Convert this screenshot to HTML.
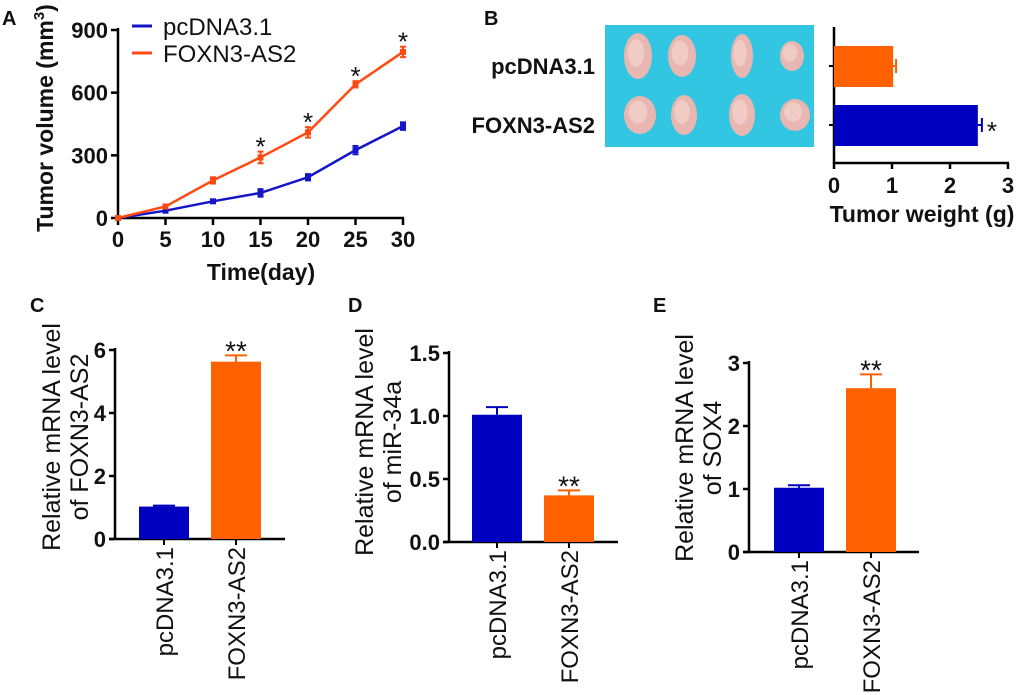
<!DOCTYPE html>
<html><head><meta charset="utf-8"><style>
html,body{margin:0;padding:0;background:#fff;}
svg{display:block;font-family:"Liberation Sans",Arial,sans-serif;}
text{font-weight:bold;fill:#111;}
</style></head><body>
<svg id="fig" width="1020" height="695" viewBox="0 0 1020 695" xmlns="http://www.w3.org/2000/svg"></svg>
<script>
// Panel A data
const daysA = [0,5,10,15,20,25,30];
const ctrlVol = [0,35,80,120,195,325,440];
const ctrlErr = [5,8,8,18,15,20,18];
const foxVol = [0,55,180,290,410,640,795];
const foxErr = [5,8,15,28,25,15,25];
const sigA = [false,false,false,true,true,true,true];
const yTicksA = [0,300,600,900];
// Panel B data
const groupsB = ["pcDNA3.1","FOXN3-AS2"];
const weightB = [1.02,2.48];
const weightErrB = [0.05,0.07];
const xTicksB = [0,1,2,3];
// Panels C,D,E data
const groups = ["pcDNA3.1","FOXN3-AS2"];
const valC = [1.03,5.63]; const errC = [0.03,0.2]; const ticksC = [0,2,4,6];
const valD = [1.01,0.37]; const errD = [0.06,0.04]; const ticksD = ["0.0","0.5","1.0","1.5"];
const valE = [1.02,2.6]; const errE = [0.04,0.22]; const ticksE = [0,1,2,3];

const BLUE="#0000c0", ORANGE="#ff6000", LBLUE="#1414c8", LORANGE="#ff4a14";
const svg=document.getElementById('fig');
const NS="http://www.w3.org/2000/svg";
function el(tag,attrs,parent){const e=document.createElementNS(NS,tag);for(const k in attrs)e.setAttribute(k,attrs[k]);(parent||svg).appendChild(e);return e;}
function txt(s,attrs,parent){const t=el('text',attrs,parent);t.textContent=s;return t;}
function grp(name){const g=el('g',{});return g;}

// ---------- Panel A ----------
(function(){
const g=grp('panel-a-line-chart');
const x=d=>118+d*(285/30), y=v=>218-v*(188/900);
const l=txt('A',{x:2,y:25,'font-size':20},g);
el('line',{x1:118,y1:28,x2:118,y2:219,stroke:'#000','stroke-width':2.5},g);
el('line',{x1:117,y1:218,x2:404,y2:218,stroke:'#000','stroke-width':2.5},g);
yTicksA.forEach(v=>{el('line',{x1:111,y1:y(v),x2:118,y2:y(v),stroke:'#000','stroke-width':2.5},g);
 const t=txt(String(v),{x:108,y:y(v)+8,'font-size':22,'text-anchor':'end'},g);});
daysA.forEach(d=>{el('line',{x1:x(d),y1:218,x2:x(d),y2:225,stroke:'#000','stroke-width':2.5},g);
 const t=txt(String(d),{x:x(d),y:247,'font-size':22,'text-anchor':'middle'},g);});
const yt=txt('',{transform:'translate(53,118) rotate(-90)','font-size':23,'text-anchor':'middle'},g);
yt.innerHTML='Tumor volume (mm<tspan dy="-9" font-size="15">3</tspan><tspan dy="9">)</tspan>';

const xt=txt('Time(day)',{x:261,y:280,'font-size':23,'text-anchor':'middle'},g);
[[ctrlVol,ctrlErr,LBLUE,'pcdna-series'],[foxVol,foxErr,LORANGE,'foxn3-series']].forEach(([vals,errs,c,n])=>{
 const p=el('polyline',{points:vals.map((v,i)=>x(daysA[i])+','+y(v)).join(' '),fill:'none',stroke:c,'stroke-width':2.5},g);
 
 vals.forEach((v,i)=>{const cx=x(daysA[i]);
  el('line',{x1:cx,y1:y(v+errs[i]),x2:cx,y2:y(v-errs[i]),stroke:c,'stroke-width':2},g);
  el('line',{x1:cx-3,y1:y(v+errs[i]),x2:cx+3,y2:y(v+errs[i]),stroke:c,'stroke-width':2},g);
  el('line',{x1:cx-3,y1:y(v-errs[i]),x2:cx+3,y2:y(v-errs[i]),stroke:c,'stroke-width':2},g);
  const m=el('rect',{x:cx-3,y:y(v)-3,width:6,height:6,fill:c},g);});
});
foxVol.forEach((v,i)=>{if(sigA[i]){const s=txt('*',{x:x(daysA[i]),y:y(v+foxErr[i])+4,'font-size':26,'text-anchor':'middle'},g);s.style.fontWeight='normal';}});
const lg=grp('legend');
el('line',{x1:132,y1:26,x2:152,y2:26,stroke:LBLUE,'stroke-width':3},lg);
el('line',{x1:132,y1:53,x2:152,y2:53,stroke:LORANGE,'stroke-width':3},lg);
txt('pcDNA3.1',{x:163,y:35,'font-size':24},lg).style.fontWeight='normal';
txt('FOXN3-AS2',{x:163,y:62,'font-size':24},lg).style.fontWeight='normal';
})();

// ---------- Panel B ----------
(function(){
const g=grp('panel-b');
const l=txt('B',{x:484,y:25,'font-size':20},g);
const ph=grp('tumor-photo');
el('rect',{x:605,y:25,width:209,height:122,fill:'#32c6e2'},ph);
const tx=[[638,682,742,792],[640,684,742,795]], ty=[56,115], rw=[[14,14,11,12],[16,13,13,15]], rh=[[23,21,22,15],[19,20,21,16]];
tx.forEach((row,r)=>row.forEach((cx,i)=>{el('ellipse',{cx:cx,cy:ty[r],rx:rw[r][i],ry:rh[r][i],fill:'#e9b7b1'},ph);el('ellipse',{cx:cx-2,cy:ty[r]-3,rx:rw[r][i]*0.6,ry:rh[r][i]*0.6,fill:'#f1cbc6'},ph);}));
const bx=v=>834+v*58, rows=[66,125];
groupsB.forEach((n,i)=>{const t=txt(n,{x:595,y:rows[i]+8,'font-size':22,'text-anchor':'end'},g);});
el('line',{x1:834,y1:27,x2:834,y2:164,stroke:'#000','stroke-width':2.5},g);
el('line',{x1:833,y1:163,x2:1009,y2:163,stroke:'#000','stroke-width':2.5},g);
rows.forEach(r=>el('line',{x1:829,y1:r,x2:834,y2:r,stroke:'#000','stroke-width':2},g));
xTicksB.forEach(v=>{el('line',{x1:bx(v),y1:163,x2:bx(v),y2:169,stroke:'#000','stroke-width':2.5},g);
 const t=txt(String(v),{x:bx(v),y:193,'font-size':22,'text-anchor':'middle'},g);});
const cols=[ORANGE,BLUE];
weightB.forEach((v,i)=>{const b=el('rect',{x:834,y:rows[i]-20,width:bx(v)-834,height:41,fill:cols[i]},g);
 const e=bx(v+weightErrB[i]);el('line',{x1:bx(v),y1:rows[i],x2:e,y2:rows[i],stroke:cols[i],'stroke-width':2},g);el('line',{x1:e,y1:rows[i]-7,x2:e,y2:rows[i]+7,stroke:cols[i],'stroke-width':2},g);});
const s=txt('*',{x:bx(weightB[1]+weightErrB[1])+5,y:rows[1]+15,'font-size':26},g);s.style.fontWeight='normal';
const xt=txt('Tumor weight (g)',{x:922,y:222,'font-size':23,'text-anchor':'middle'},g);
})();

// ---------- Bar panels ----------
function barPanel(o){
const g=grp(o.name);
const y=v=>o.y0-v*(o.y0-o.yTop)/o.max;
const l=txt(o.letter,{x:o.lx,y:312,'font-size':20},g);
el('line',{x1:o.ax,y1:o.yTop-2,x2:o.ax,y2:o.y0+1,stroke:'#000','stroke-width':2.5},g);
el('line',{x1:o.ax-6,y1:o.y0,x2:o.axEnd,y2:o.y0,stroke:'#000','stroke-width':2.5},g);
o.ticks.forEach(tk=>{const v=parseFloat(tk);el('line',{x1:o.ax-6,y1:y(v),x2:o.ax,y2:y(v),stroke:'#000','stroke-width':2.5},g);
 const t=txt(String(tk),{x:o.ax-9,y:y(v)+8,'font-size':22,'text-anchor':'end'},g);});
const cols=[BLUE,ORANGE];
o.vals.forEach((v,i)=>{const bx=o.bars[i];const c=cols[i];
 const b=el('rect',{x:bx,y:y(v),width:50,height:o.y0-y(v),fill:c},g);
 const cx=bx+25,et=y(v+o.errs[i]);
 el('line',{x1:cx,y1:et,x2:cx,y2:y(v),stroke:c,'stroke-width':2},g);el('line',{x1:cx-11,y1:et,x2:cx+11,y2:et,stroke:c,'stroke-width':2},g);
 el('line',{x1:cx,y1:o.y0,x2:cx,y2:o.y0+6,stroke:'#000','stroke-width':2},g);
 const t=txt(groups[i],{transform:`translate(${cx+9},${o.y0+8}) rotate(-90)`,'font-size':24,'text-anchor':'end'},g);t.style.fontWeight='normal';
 if(i===1){const s=txt('**',{x:cx,y:et+5,'font-size':28,'text-anchor':'middle'},g);s.style.fontWeight='normal';}
});
const t1=txt('Relative mRNA level',{transform:`translate(${o.tx},${o.ty}) rotate(-90)`,'font-size':25,'text-anchor':'middle'},g);t1.style.fontWeight='normal';
const t2=txt(o.sub,{transform:`translate(${o.tx+28},${o.ty}) rotate(-90)`,'font-size':25,'text-anchor':'middle'},g);t2.style.fontWeight='normal';
}
barPanel({name:'panel-c-bar-chart',letter:'C',lx:30,ax:115,axEnd:285,y0:539,yTop:350,max:6,ticks:ticksC,vals:valC,errs:errC,bars:[139,211],tx:60,ty:437,sub:'of FOXN3-AS2'});
barPanel({name:'panel-d-bar-chart',letter:'D',lx:348,ax:449,axEnd:618,y0:542,yTop:353,max:1.5,ticks:ticksD,vals:valD,errs:errD,bars:[472,544],tx:373,ty:442,sub:'of miR-34a'});
barPanel({name:'panel-e-bar-chart',letter:'E',lx:653,ax:749,axEnd:919,y0:552,yTop:363,max:3,ticks:ticksE,vals:valE,errs:errE,bars:[774,846],tx:693,ty:448,sub:'of SOX4'});
</script>
</body></html>
